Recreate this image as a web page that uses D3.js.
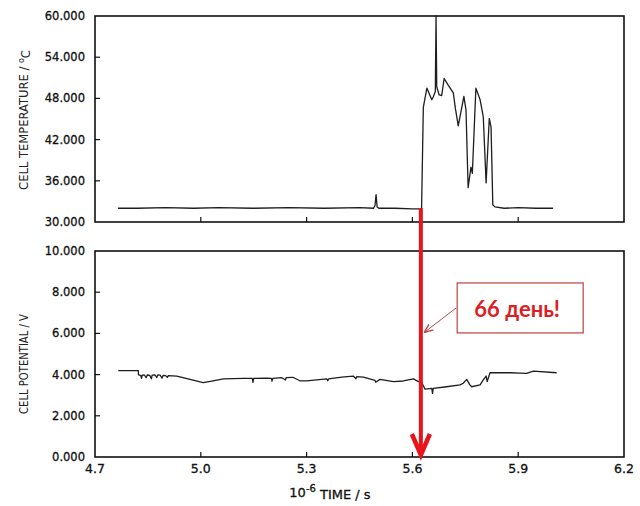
<!DOCTYPE html>
<html><head><meta charset="utf-8">
<script src="https://cdn.jsdelivr.net/npm/d3@7"></script>
<style>
body{margin:0;background:#fff;}
svg{display:block;}
.tick-label{font-family:"DejaVu Sans",sans-serif;font-size:11.5px;fill:#111;stroke:#111;stroke-width:0.3px;}
.ytitle{font-family:"Liberation Sans Narrow","DejaVu Sans Condensed","Liberation Sans",sans-serif;font-size:13px;fill:#222;}
</style></head>
<body><svg id="c" width="640" height="506"></svg>
<script>
// ---- data ----
const xTicks = [4.7, 5.0, 5.3, 5.6, 5.9, 6.2];
const tempTicks = [30, 36, 42, 48, 54, 60];
const potTicks = [0, 2, 4, 6, 8, 10];

const tempTime = [4.765,4.82,4.9,4.98,5.05,5.15,5.25,5.35,5.45,5.49,5.494,5.497,5.500,5.505,5.55,5.60,5.626,
  5.631,5.641,5.655,5.659,5.665,5.667,5.669,5.676,5.683,5.690,5.702,5.716,5.722,5.730,5.746,5.752,5.758,5.766,5.770,
  5.780,5.792,5.801,5.809,5.818,5.823,5.828,5.834,5.86,5.90,5.95,5.999];
const tempValue = [32.0,32.0,32.1,32.0,32.1,32.0,32.1,32.0,32.1,32.0,32.4,34.0,32.2,32.0,32.0,31.9,31.9,
  46.7,49.5,47.8,48.2,49.0,60.0,49.7,48.5,48.4,50.9,49.9,48.8,46.5,44.0,48.3,46.3,35.0,38.0,37.1,
  49.5,47.8,45.3,35.7,45.1,43.8,32.5,32.2,32.0,32.1,32.0,32.0];

const potTime = [4.766,4.823,4.823,4.83,4.832,4.834,4.84,4.845,4.848,4.855,4.86,4.862,4.87,4.875,4.878,4.885,4.89,4.893,4.90,4.905,4.908,4.92,
  4.932,5.007,5.035,5.064,5.121,5.146,5.148,5.150,5.187,5.20,5.202,5.204,5.23,5.24,5.242,5.261,5.281,5.300,5.357,5.36,5.362,5.40,5.432,5.44,5.442,5.461,5.494,5.496,5.508,5.546,5.574,5.603,5.617,5.624,
  5.636,5.655,5.657,5.659,5.697,5.735,5.744,5.754,5.763,5.768,5.792,5.801,5.809,5.812,5.820,5.877,5.905,5.924,5.943,6.009];
const potValue = [4.19,4.19,4.00,3.95,3.82,3.97,3.98,3.85,3.98,3.96,3.80,3.97,3.99,3.86,3.98,3.97,3.83,3.96,3.95,3.87,3.95,3.94,
  3.93,3.61,3.70,3.79,3.82,3.82,3.62,3.82,3.83,3.82,3.68,3.82,3.85,3.74,3.85,3.87,3.70,3.70,3.79,3.70,3.79,3.88,3.93,3.80,3.90,3.88,3.72,3.63,3.77,3.66,3.69,3.79,3.66,3.70,
  3.29,3.33,3.09,3.33,3.41,3.50,3.58,3.77,3.50,3.41,3.50,3.74,3.93,3.66,4.09,4.09,4.07,4.06,4.17,4.09];

const eventTime = 5.624;
const noteText = "66 день!";

// ---- layout ----
const svg = d3.select("#c");
const x = d3.scaleLinear().domain([4.7, 6.2]).range([95, 624]);
const yT = d3.scaleLinear().domain([30, 60]).range([222, 16]);
const yP = d3.scaleLinear().domain([0, 10]).range([457, 251]);

function panel(y, ticks, title, titleLen, titleCy, showX) {
  const g = svg.append("g");
  const [y0, y1] = y.range();
  g.selectAll(".yl").data(ticks).join("text").attr("class","tick-label")
    .attr("x", 85).attr("y", d => y(d)).attr("dy","0.35em").attr("text-anchor","end")
    .text(d => d3.format(".3f")(d));
  g.selectAll(".yt").data(ticks.slice(1, -1)).join("line")
    .attr("x1", x.range()[0]).attr("x2", x.range()[0] + 5)
    .attr("y1", d => y(d)).attr("y2", d => y(d)).attr("stroke","#111").attr("stroke-width",1.2);
  g.selectAll(".xt").data(xTicks.slice(1, -1)).join("line")
    .attr("x1", d => x(d)).attr("x2", d => x(d))
    .attr("y1", y0).attr("y2", y0 - 5).attr("stroke","#111").attr("stroke-width",1.2);
  g.append("rect").attr("x", x.range()[0]).attr("y", y1)
    .attr("width", x.range()[1] - x.range()[0]).attr("height", y0 - y1)
    .attr("fill","none").attr("stroke","#111").attr("stroke-width",1.6);
  const tt = g.append("text").attr("class","ytitle").attr("text-anchor","middle");
  tt.text(title[0]);
  if (title[1]) {
    tt.append("tspan").attr("dy","-0.45em").attr("font-size","9px").text(title[1]);
    tt.append("tspan").attr("dy","0.45em").text(title[2]);
  }
  const len = tt.node().getComputedTextLength();
  tt.attr("transform", `translate(28,${titleCy}) rotate(-90) scale(${titleLen / len},1)`);
  if (showX) {
    g.selectAll(".xl").data(xTicks).join("text").attr("class","tick-label")
      .attr("x", d => x(d)).attr("y", y0 + 16).attr("text-anchor","middle").style("font-size","12.5px")
      .text(d => d3.format(".1f")(d));
  }
}
panel(yT, tempTicks, ["CELL TEMPERATURE  /  ", "o", "C"], 140, 120, false);
panel(yP, potTicks, ["CELL POTENTIAL  /  V"], 100, 364, true);

// x title
const xt = svg.append("text").attr("class","tick-label").style("font-size","13px")
  .attr("x", 330).attr("y", 497).attr("text-anchor","middle");
xt.append("tspan").text("10");
xt.append("tspan").attr("dy","-0.55em").style("font-size","10px").text("-6");
xt.append("tspan").attr("dy","0.55em").text(" TIME  /  s");

// lines
const line = (ys) => d3.line().x(d => x(d[0])).y(d => ys(d[1]));
svg.append("path").datum(d3.zip(tempTime, tempValue)).attr("d", line(yT))
  .attr("fill","none").attr("stroke","#1e1e1e").attr("stroke-width",1.3).attr("stroke-linejoin","round");
svg.append("path").datum(d3.zip(potTime, potValue)).attr("d", line(yP))
  .attr("fill","none").attr("stroke","#1e1e1e").attr("stroke-width",1.3).attr("stroke-linejoin","round");

// red event arrow
const ex = x(eventTime);
const red = "#e8141c";
svg.append("line").attr("x1", ex).attr("x2", ex).attr("y1", yT(31.9) - 1).attr("y2", yP(0) - 3)
  .attr("stroke", red).attr("stroke-width", 4);
svg.append("path").attr("d", `M${ex - 9},${yP(0) - 23}L${ex},${yP(0) - 2}L${ex + 9},${yP(0) - 23}`)
  .attr("fill","none").attr("stroke", red).attr("stroke-width", 4.5).attr("stroke-linejoin","miter");

// annotation
const defs = svg.append("defs");
defs.append("marker").attr("id","ah").attr("viewBox","0 0 10 10").attr("refX",9).attr("refY",5)
  .attr("markerWidth",9).attr("markerHeight",9).attr("orient","auto")
  .attr("markerUnits","userSpaceOnUse")
  .append("path").attr("d","M0,1L10,5L0,9").attr("fill","none").attr("stroke","#b5494a").attr("stroke-width",1.6);
const bx = x(5.727), by = yP(8.45);
svg.append("rect").attr("x", bx).attr("y", by).attr("width", 126).attr("height", 50)
  .attr("fill","#fff").attr("stroke","#c0504d").attr("stroke-width",1.3);
svg.append("text").attr("x", bx + 60).attr("y", by + 26).attr("dy","0.35em").attr("text-anchor","middle")
  .style("font-family","Lato, 'Open Sans', sans-serif").style("font-weight","bold").style("font-size","22px")
  .attr("fill","#dc1e24").text(noteText);
svg.append("line").attr("x1", bx - 1).attr("y1", by + 25).attr("x2", ex + 4).attr("y2", by + 49)
  .attr("stroke","#b5494a").attr("stroke-width",1).attr("marker-end","url(#ah)");
</script></body></html>
